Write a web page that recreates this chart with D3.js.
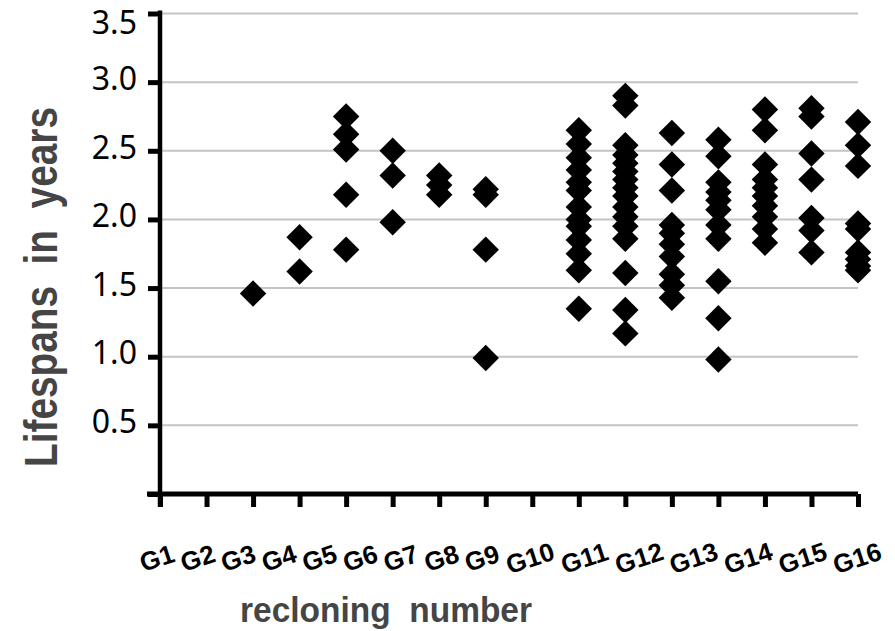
<!DOCTYPE html>
<html>
<head>
<meta charset="utf-8">
<script src="https://cdn.jsdelivr.net/npm/d3@7"></script>
<style>
  body { margin: 0; background: #fff; }
  svg { display: block; }
</style>
</head>
<body>
<div id="chart"></div>
<script>
// recloning generations shown on the x axis
const generations = ["G1", "G2", "G3", "G4", "G5", "G6", "G7", "G8",
                     "G9", "G10", "G11", "G12", "G13", "G14", "G15", "G16"];
const yTicks = [0, 0.5, 1.0, 1.5, 2.0, 2.5, 3.0, 3.5];

// lifespans (years), one array per column of points
const G3 = [1.46];
const G4 = [1.87, 1.62];
const G5 = [2.75, 2.62, 2.51, 2.18, 1.78];
const G6 = [2.50, 2.32, 1.98];
const G7 = [2.32, 2.25, 2.18];
const G8 = [2.22, 2.18, 1.78, 0.99];
const G10 = [2.65, 2.55, 2.45, 2.36, 2.27, 2.21, 2.09, 2.00, 1.95, 1.85, 1.75, 1.63, 1.35];
const G11 = [2.90, 2.83, 2.54, 2.47, 2.41, 2.35, 2.29, 2.23, 2.17, 2.09, 2.02, 1.95, 1.86, 1.61, 1.34, 1.17];
const G12 = [2.63, 2.40, 2.21, 1.96, 1.90, 1.82, 1.73, 1.60, 1.52, 1.43];
const G13 = [2.58, 2.46, 2.27, 2.20, 2.14, 2.07, 1.96, 1.86, 1.55, 1.28, 0.98];
const G14 = [2.80, 2.65, 2.40, 2.29, 2.23, 2.17, 2.10, 2.02, 1.93, 1.83];
const G15 = [2.81, 2.75, 2.48, 2.29, 2.01, 1.92, 1.76];
const G16 = [2.71, 2.54, 2.39, 1.97, 1.93, 1.76, 1.71, 1.66, 1.63];

const series = [["G3", G3], ["G4", G4], ["G5", G5], ["G6", G6], ["G7", G7], ["G8", G8],
                ["G10", G10], ["G11", G11], ["G12", G12], ["G13", G13],
                ["G14", G14], ["G15", G15], ["G16", G16]];
const points = series.flatMap(([g, vals]) => vals.map(v => ({ gen: g, value: v })));

const margin = { top: 13.5, right: 37, bottom: 137, left: 160 };
const width = 895 - margin.left - margin.right;
const height = 631 - margin.top - margin.bottom;

const svg = d3.select("#chart")
    .append("svg")
    .attr("width", 895)
    .attr("height", 631)
    .append("g")
    .attr("transform", `translate(${margin.left},${margin.top})`);

const x = d3.scalePoint()
    .domain(generations)
    .range([0, width]);

const y = d3.scaleLinear()
    .domain([0, 3.5])
    .range([height, 0]);

// label positions drift from the ticks in the original figure
const labelX = d3.scaleLinear()
    .domain([0, 8, 9, 15])
    .range([-3, 322, 370, 697]);

// gridlines
svg.append("g")
    .selectAll("line")
    .data(yTicks.filter(d => d > 0))
    .join("line")
    .attr("x1", 0)
    .attr("x2", width)
    .attr("y1", d => y(d))
    .attr("y2", d => y(d))
    .attr("stroke", "#c4c4c4")
    .attr("stroke-width", 2);

// y axis
const yAxis = svg.append("g")
    .call(d3.axisLeft(y)
        .tickValues(yTicks)
        .tickSize(12)
        .tickSizeOuter(0)
        .tickPadding(11)
        .tickFormat(d => d === 0 ? "" : d3.format(".1f")(d)));
yAxis.select(".domain").attr("stroke", "#000").attr("stroke-width", 4.5)
    .attr("d", `M0,${height + 13}V${y(3.5) - 3}`);
yAxis.selectAll(".tick line").attr("stroke", "#000").attr("stroke-width", 5);
yAxis.selectAll(".tick text")
    .attr("font-family", "'Noto Sans', sans-serif")
    .attr("font-size", 32)
    .attr("fill", "#000")
    .attr("y", d => d === 3.5 ? 10 : -3);

// x axis
const xAxis = svg.append("g")
    .attr("transform", `translate(0,${height})`)
    .call(d3.axisBottom(x).tickSize(13).tickSizeOuter(0).tickFormat(""));
xAxis.select(".domain").attr("stroke", "#000").attr("stroke-width", 5)
    .attr("d", `M-13,0H${width}`);
xAxis.selectAll(".tick line").attr("stroke", "#000").attr("stroke-width", 5);

svg.append("g")
    .selectAll("text")
    .data(generations)
    .join("text")
    .attr("transform", (d, i) => `translate(${labelX(i)},${height + 64}) rotate(-18)`)
    .attr("text-anchor", "middle")
    .attr("dy", "0.35em")
    .attr("font-family", "'Liberation Sans', Arial, sans-serif")
    .attr("font-weight", "bold")
    .attr("font-size", 26)
    .text(d => d);

// diamonds
const diamond = d3.symbol(d3.symbolSquare, 350);
svg.append("g")
    .selectAll("path")
    .data(points)
    .join("path")
    .attr("d", diamond)
    .attr("transform", d => `translate(${x(d.gen)},${y(d.value)}) rotate(45)`)
    .attr("fill", "#000");

// axis titles
svg.append("text")
    .attr("transform", `translate(${57 - margin.left},${287 - margin.top}) rotate(-90)`)
    .attr("text-anchor", "middle")
    .attr("font-family", "'Liberation Sans Narrow', 'Liberation Sans', Arial, sans-serif")
    .attr("font-weight", "bold")
    .attr("font-size", 47)
    .attr("fill", "#454545")
    .attr("textLength", 360)
    .attr("lengthAdjust", "spacingAndGlyphs")
    .style("white-space", "pre")
    .text("Lifespans  in  years");

svg.append("text")
    .attr("x", 386 - margin.left)
    .attr("y", 622 - margin.top)
    .attr("text-anchor", "middle")
    .attr("font-family", "'Liberation Sans', Arial, sans-serif")
    .attr("font-weight", "bold")
    .attr("font-size", 35)
    .attr("fill", "#454545")
    .attr("textLength", 292)
    .attr("lengthAdjust", "spacingAndGlyphs")
    .style("white-space", "pre")
    .text("recloning  number");
</script>
</body>
</html>
